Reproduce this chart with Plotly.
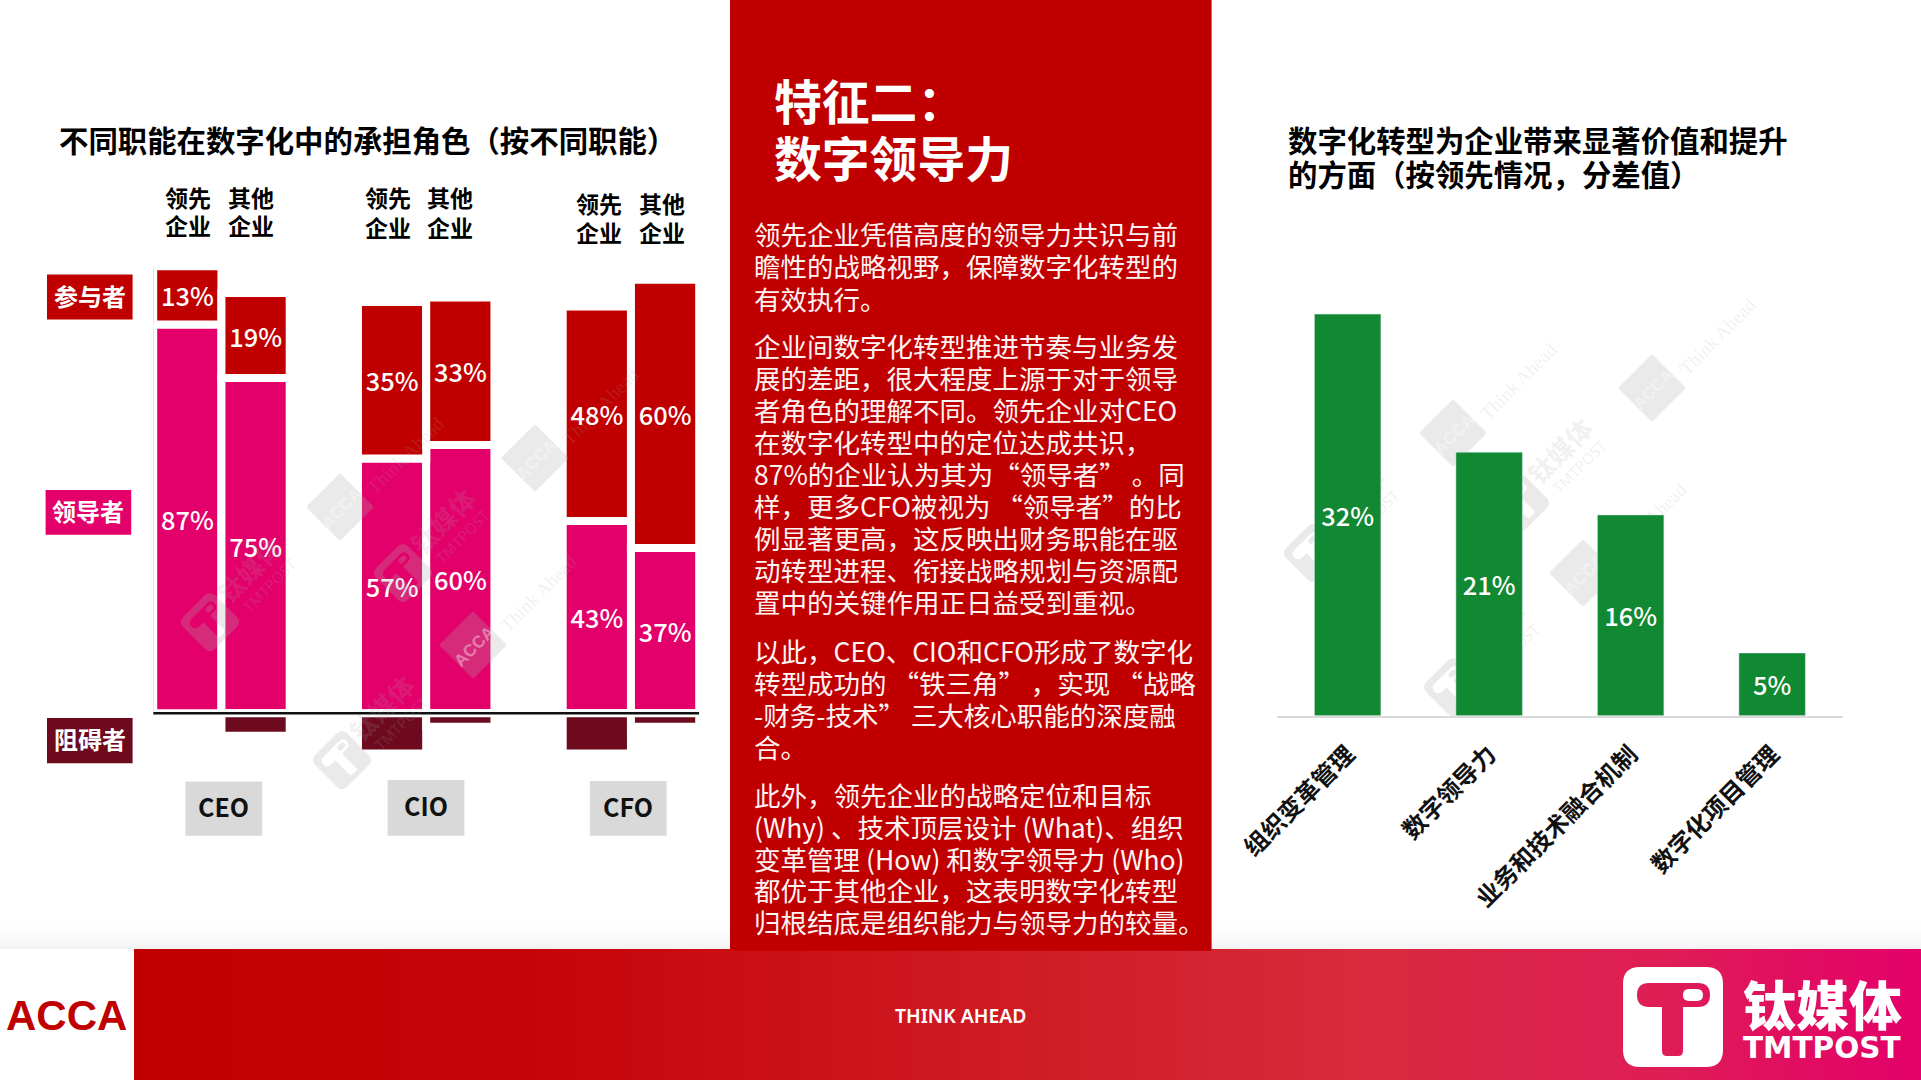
import math
import plotly.graph_objects as go

W, H = 1921, 1080
CJK = "Noto Sans CJK SC"

# Left chart: share of each role by executive and peer group
executives = ["CEO", "CIO", "CFO"]
peer_groups = ["领先<br>企业", "其他<br>企业"]
participant = [13, 19, 35, 33, 48, 60]
leader = [87, 75, 57, 60, 43, 37]
blocker = [None, -5, -9, -3, -9, -3]
role_names = ["参与者", "领导者", "阻碍者"]

# Right chart: gap between leading firms and others
value_areas = ["组织变革管理", "数字领导力", "业务和技术融合机制", "数字化项目管理"]
value_gap = [32, 21, 16, 5]

left_title = "不同职能在数字化中的承担角色（按不同职能）"
right_title = ["数字化转型为企业带来显著价值和提升", "的方面（按领先情况，分差值）"]
panel_title = ["特征二：", "数字领导力"]
panel_paragraphs = [
    ["领先企业凭借高度的领导力共识与前", "瞻性的战略视野，保障数字化转型的", "有效执行。"],
    ["企业间数字化转型推进节奏与业务发", "展的差距，很大程度上源于对于领导", "者角色的理解不同。领先企业对CEO",
     "在数字化转型中的定位达成共识，", "87%的企业认为其为“领导者” 。同", "样，更多CFO被视为 “领导者”的比",
     "例显著更高，这反映出财务职能在驱", "动转型进程、衔接战略规划与资源配", "置中的关键作用正日益受到重视。"],
    ["以此，CEO、CIO和CFO形成了数字化", "转型成功的 “铁三角” ，实现 “战略", "-财务-技术” 三大核心职能的深度融", "合。"],
    ["此外，领先企业的战略定位和目标", "(Why) 、技术顶层设计 (What)、组织", "变革管理 (How) 和数字领导力 (Who)",
     "都优于其他企业，这表明数字化转型", "归根结底是组织能力与领导力的较量。"],
]

RED = "#C00000"
PINK = "#E4006A"
MAROON = "#6D0A1E"
GREEN = "#118832"
MARK_FILL = "rgba(170,170,170,0.25)"
MARK_TEXT = "rgba(255,255,255,0.4)"
MARK_SOFT = "rgba(170,170,170,0.18)"


def px(x):
    return x / W


def py(y):
    return 1 - y / H


def xform(cx, cy, dx, dy, angle, scale=1.0):
    a = math.radians(angle)
    dx, dy = dx * scale, dy * scale
    x = cx + dx * math.cos(a) + dy * math.sin(a)
    y = cy - dx * math.sin(a) + dy * math.cos(a)
    return f"{px(x):.5f},{py(y):.5f}"


def rounded_box(cx, cy, x0, y0, x1, y1, r, angle=0, scale=1.0):
    p = lambda a, b: xform(cx, cy, a, b, angle, scale)
    return (
        f"M{p(x0 + r, y0)} L{p(x1 - r, y0)} Q{p(x1, y0)} {p(x1, y0 + r)} "
        f"L{p(x1, y1 - r)} Q{p(x1, y1)} {p(x1 - r, y1)} "
        f"L{p(x0 + r, y1)} Q{p(x0, y1)} {p(x0, y1 - r)} "
        f"L{p(x0, y0 + r)} Q{p(x0, y0)} {p(x0 + r, y0)} Z "
    )


def t_outline(cx, cy, angle=0, scale=1.0):
    p = lambda a, b: xform(cx, cy, a, b, angle, scale)
    return (
        f"M{p(-24, -34)} L{p(25, -34)} Q{p(37, -34)} {p(37, -22)} Q{p(37, -10)} {p(25, -10)} "
        f"L{p(10, -10)} L{p(10, 34)} Q{p(10, 39)} {p(5, 39)} L{p(-6, 39)} Q{p(-11, 39)} {p(-11, 34)} "
        f"L{p(-11, -10)} L{p(-24, -10)} Q{p(-36, -10)} {p(-36, -22)} Q{p(-36, -34)} {p(-24, -34)} Z "
    )


def t_logo_path(cx, cy, angle=0, scale=1.0):
    return (
        rounded_box(cx, cy, -50, -50, 50, 50, 17, angle, scale)
        + t_outline(cx, cy, angle, scale)
        + rounded_box(cx, cy, 10, -28, 30, -16, 6, angle, scale)
    )


def label_shape(cx, cy, text, size, color, layer, family=CJK, weight=700):
    return dict(
        type="rect", xref="paper", yref="paper",
        x0=px(cx - 30), x1=px(cx + 30), y0=py(cy + 30), y1=py(cy - 30),
        fillcolor="rgba(0,0,0,0)", line=dict(width=0), layer=layer,
        label=dict(text=text, textangle=-45, textposition="middle center",
                   font=dict(family=family, size=size, color=color, weight=weight)),
    )


def acca_mark(cx, cy, layer):
    path = rounded_box(cx, cy, -24, -24, 24, 24, 2, 45)
    return [
        dict(type="path", xref="paper", yref="paper", path=path,
             fillcolor=MARK_FILL, line=dict(width=0), layer=layer),
        label_shape(cx, cy, "ACCA", 17, MARK_TEXT, layer, "Liberation Sans"),
        label_shape(cx + 64, cy - 53, "Think Ahead", 19, MARK_SOFT, layer, "Liberation Serif", 400),
    ]


def tmt_mark(cx, cy, layer):
    return [
        dict(type="path", xref="paper", yref="paper", path=t_logo_path(cx, cy, 45, 0.45),
             fillcolor=MARK_FILL, line=dict(width=0), layer=layer),
        label_shape(cx + 42, cy - 50, "钛媒体", 26, MARK_SOFT, layer),
        label_shape(cx + 60, cy - 36, "TMTPOST", 15, MARK_SOFT, layer, "Noto Sans", 400),
    ]


fig = go.Figure()

# Page fade above the footer and the footer ribbon
fig.add_trace(go.Scatter(
    x=[0, W, W, 0, 0], y=[916, 916, 950, 950, 916], xaxis="x3", yaxis="y3", mode="none",
    fill="toself", hoverinfo="skip", showlegend=False,
    fillgradient=dict(type="vertical", colorscale=[[0, "#F1F1F1"], [1, "rgba(255,255,255,0)"]]),
))
fig.add_trace(go.Scatter(
    x=[134, W, W, 134, 134], y=[949, 949, H, H, 949], xaxis="x3", yaxis="y3", mode="none",
    fill="toself", hoverinfo="skip", showlegend=False,
    fillgradient=dict(type="horizontal", colorscale=[
        [0, "#C00000"], [0.22, "#C40409"], [0.5, "#D01C24"], [0.68, "#D82A3C"],
        [0.85, "#DE1E55"], [1, "#E4006A"]]),
))

# Stacked role bars: two peer groups per executive, with an empty slot between executives
slots = [3 * g + s for g in range(len(executives)) for s in range(len(peer_groups))]
for values, color in [(leader, PINK), (participant, RED), (blocker, MAROON)]:
    labels = [f"{v}%" if v is not None and v > 0 else "" for v in values]
    fig.add_trace(go.Bar(
        x=slots, y=values, width=1, marker=dict(color=color, line=dict(color="white", width=8)),
        text=labels, textposition="inside", insidetextanchor="middle", textangle=0,
        constraintext="none", cliponaxis=False,
        textfont=dict(family=CJK, size=25.4, color="white", weight=500),
        hoverinfo="skip", showlegend=False, xaxis="x", yaxis="y",
    ))

# Single-series value bars
fig.add_trace(go.Bar(
    x=value_areas, y=value_gap, marker=dict(color=GREEN),
    text=[f"{v}%" for v in value_gap], textposition="inside", insidetextanchor="middle",
    textangle=0, constraintext="none",
    textfont=dict(family=CJK, size=25.4, color="white", weight=500),
    hoverinfo="skip", showlegend=False, xaxis="x2", yaxis="y2",
))

# Pixel geometry of the two plot areas
L_X0, L_X1, L_ZERO, L_UNIT = 153.2, 699.2, 713.3, 4.47
L_YMIN, L_YMAX = -15, 105
R_X0, R_X1, R_ZERO, R_UNIT = 1276.9, 1842.9, 715.7, 12.55
R_YMAX = 35

shapes = [
    dict(type="rect", xref="paper", yref="paper", x0=px(0), x1=px(134), y0=py(H), y1=py(949),
         fillcolor="white", line=dict(width=0), layer="above"),
    dict(type="rect", xref="paper", yref="paper", x0=px(730), x1=px(1211.6), y0=py(950.7), y1=py(0),
         fillcolor=RED, line=dict(width=0), layer="above"),
    dict(type="line", xref="x", yref="y", x0=-0.5, x1=7.5, y0=0, y1=0,
         line=dict(color="#111111", width=2.4), layer="above"),
    dict(type="path", xref="paper", yref="paper", path=t_logo_path(1673, 1017),
         fillcolor="white", line=dict(width=0), layer="above"),
]
for cx, cy in [(340, 507), (535, 458), (473, 645)]:
    shapes += acca_mark(cx, cy, "above")
for cx, cy in [(210, 622), (403, 573), (342, 760)]:
    shapes += tmt_mark(cx, cy, "above")
for cx, cy in [(1453, 433), (1652, 388), (1583, 573)]:
    shapes += acca_mark(cx, cy, "below")
for cx, cy in [(1313, 553), (1520, 503), (1453, 687)]:
    shapes += tmt_mark(cx, cy, "below")

annotations = []


def note(text, x, y, size, color="#000000", weight=400, anchor="left", family=CJK, **extra):
    annotations.append(dict(
        text=text, x=px(x), y=py(y), xref="paper", yref="paper", xanchor=anchor, yanchor="middle",
        showarrow=False, align="left" if anchor == "left" else "center", borderpad=0,
        font=dict(family=family, size=size, color=color, weight=weight), **extra))


note(left_title, 58, 139.5, 29.4, weight=700)
for line, y in zip(right_title, [139, 173]):
    note(line, 1287, y, 29.4, weight=700)
for line, y in zip(panel_title, [99.5, 156.5]):
    note(line, 773, y, 47.8, "white", 700)

for lines, y0, step in zip(panel_paragraphs, [233.5, 345.8, 650, 794.2], [32.5, 31.9, 32.2, 31.9]):
    for i, line in enumerate(lines):
        note(line, 753, y0 + i * step, 26.5, "#FFF4F4", 400)

# Peer-group headers above each pair of bars
header_rows = [(188, 251, 211), (388, 450, 212), (599, 662, 217)]
for left_x, right_x, y in header_rows:
    for name, x in zip(peer_groups, [left_x, right_x]):
        for part, yy in zip(name.split("<br>"), [y - 14.5, y + 14.5]):
            note(part, x, yy, 23, weight=700, anchor="center")

# Role keys at the left of the stacked bars
for name, color, x0, y0, y1 in zip(role_names, [RED, PINK, MAROON], [47, 45.6, 47],
                                   [274.5, 490, 718], [319.6, 534.7, 763.2]):
    note(name, x0 + 42.8, (y0 + y1) / 2 - 2, 24, "white", 700, "center")
    shapes.append(dict(type="rect", xref="paper", yref="paper", layer="above",
                       x0=px(x0), x1=px(x0 + 85.6), y0=py(y1), y1=py(y0),
                       fillcolor=color, line=dict(width=0)))

# Executive badges
for name, x0, y0 in zip(executives, [185.4, 387.6, 589.8], [781.4, 780, 781]):
    note(name, x0 + 38.4, (y0 + 835.7) / 2 - 2.5, 25, "#111111", 700, "center")
    shapes.append(dict(type="rect", xref="paper", yref="paper", layer="above",
                       x0=px(x0), x1=px(x0 + 76.8), y0=py(835.7), y1=py(y0),
                       fillcolor="#D9D9D9", line=dict(width=0)))

# Footer wording
note("ACCA", 66, 1015, 42, RED, 700, "center", "Liberation Sans")
note("THINK AHEAD", 960.5, 1015.5, 19.4, "white", 600, "center", "Noto Sans")
note("钛媒体", 1822, 1003, 53, "white", 900, "center")
note("TMTPOST", 1822, 1048, 29.5, "white", 700, "center", "DejaVu Sans")

fig.update_layout(
    width=W, height=H, margin=dict(l=0, r=0, t=0, b=0), autosize=False,
    paper_bgcolor="white", plot_bgcolor="rgba(0,0,0,0)",
    barmode="relative", bargap=0.53, showlegend=False,
    shapes=shapes, annotations=annotations,
    xaxis=dict(domain=[px(L_X0), px(L_X1)], range=[-0.5, 7.5], visible=False, anchor="y"),
    yaxis=dict(domain=[py(L_ZERO - L_YMIN * L_UNIT), py(L_ZERO - L_YMAX * L_UNIT)],
               range=[L_YMIN, L_YMAX], visible=False, anchor="x"),
    xaxis2=dict(domain=[px(R_X0), px(R_X1)], anchor="y2", type="category", showgrid=False,
                showline=True, linecolor="#D9D9D9", linewidth=2, ticks="", tickangle=-45,
                automargin=False, ticklabelstandoff=13,
                tickfont=dict(family=CJK, size=24, color="#111111", weight=700)),
    yaxis2=dict(domain=[py(R_ZERO), py(R_ZERO - R_YMAX * R_UNIT)], range=[0, R_YMAX],
                visible=False, anchor="x2"),
    xaxis3=dict(domain=[0, 1], range=[0, W], visible=False, anchor="y3"),
    yaxis3=dict(domain=[0, 1], range=[H, 0], visible=False, anchor="x3"),
)

fig.write_html("out.html")
